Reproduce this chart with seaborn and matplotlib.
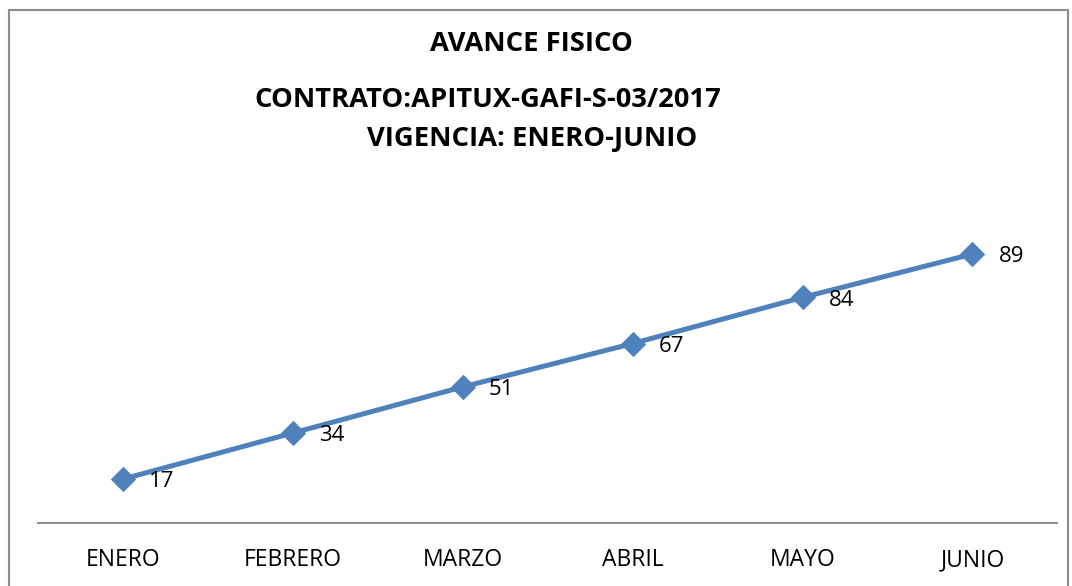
import pandas as pd
import seaborn as sns
import matplotlib.pyplot as plt
from matplotlib.patches import Rectangle

# Chart data (plotted positions; labels as printed)
meses = ["ENERO", "FEBRERO", "MARZO", "ABRIL", "MAYO", "JUNIO"]
avance = [17, 34, 51, 67, 84, 100]
etiquetas = ["17", "34", "51", "67", "84", "89"]

df = pd.DataFrame({"mes": meses, "avance": avance})

sns.set_style("white")
plt.rcParams["font.family"] = ["Open Sans", "DejaVu Sans"]

fig = plt.figure(figsize=(10.72, 5.86), dpi=100)
ax = fig.add_axes([0.0354, 0.1075, 0.951, 0.6024])

sns.lineplot(data=df, x="mes", y="avance", ax=ax, color="#4F81BD",
             linewidth=3.6, marker="D", markersize=12, markeredgecolor="#4F81BD",
             sort=False)

# Data labels to the right of each point
for i, (v, t) in enumerate(zip(avance, etiquetas)):
    ax.annotate(t, (i, v), xytext=(19, -2), textcoords="offset points",
                ha="left", va="center", fontsize=16, color="black")

ax.set_xlim(-0.5, 5.5)
ax.set_ylim(0.8, 131)
ax.set_xlabel("")
ax.set_ylabel("")
ax.set_yticks([])
ax.tick_params(axis="x", length=0, labelsize=16.5, pad=18, labelcolor="black")
for s in ["top", "right", "left"]:
    ax.spines[s].set_visible(False)
ax.spines["bottom"].set_color("#8C8C8C")
ax.spines["bottom"].set_linewidth(1.4)

# Titles
fig.text(531.5 / 1072, 1 - 44 / 586, "AVANCE FISICO", ha="center", va="center",
         fontsize=19.7, fontweight="bold", color="black")
fig.text(487.5 / 1072, 1 - 100 / 586, "CONTRATO:APITUX-GAFI-S-03/2017", ha="center",
         va="center", fontsize=19.7, fontweight="bold", color="black")
fig.text(532.5 / 1072, 1 - 139 / 586, "VIGENCIA: ENERO-JUNIO", ha="center",
         va="center", fontsize=19.7, fontweight="bold", color="black")

# Chart frame
fig.patches.append(Rectangle((9 / 1072, -0.05), 1059 / 1072, 1.05 - 10 / 586,
                             transform=fig.transFigure, fill=False,
                             edgecolor="#8C8C8C", linewidth=1.5))

fig.savefig("out.png", dpi=100)
